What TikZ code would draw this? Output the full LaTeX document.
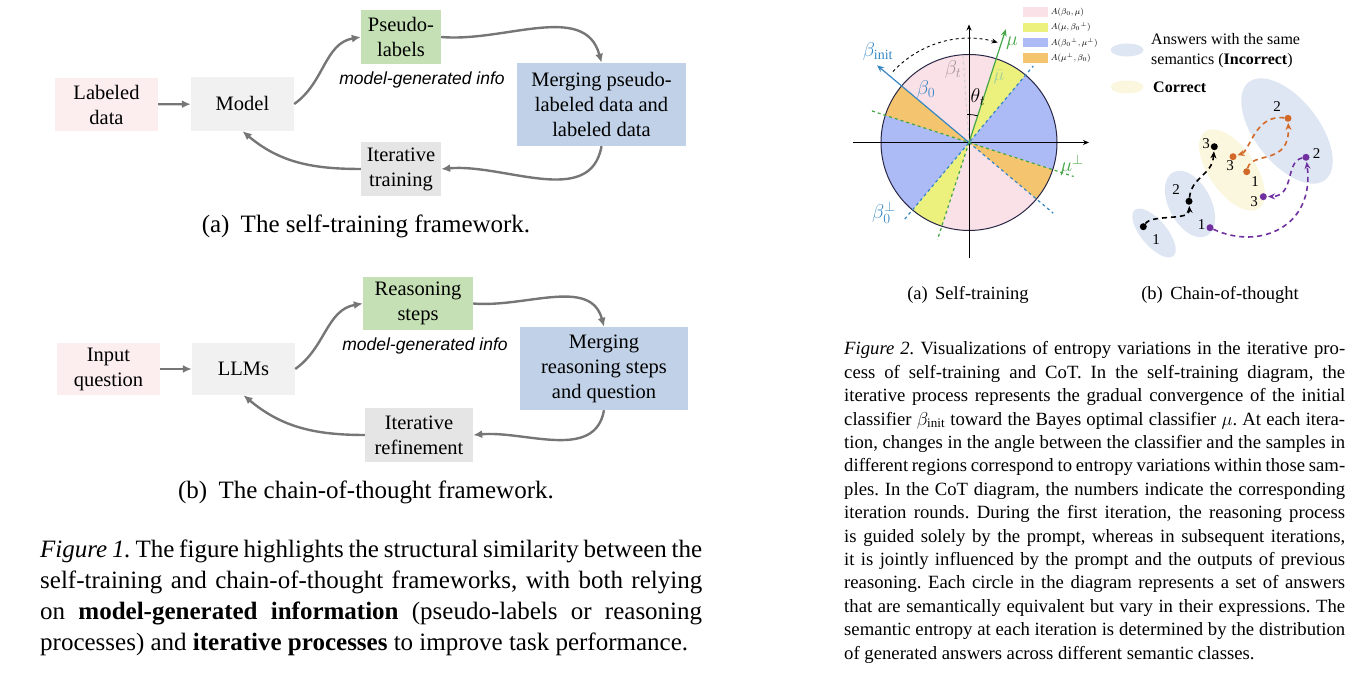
\documentclass[tikz,border=0pt]{standalone}
\usepackage{fix-cm}
\usepackage{amsmath}
\usepackage{amssymb}
\usepackage{fontspec}
\setmainfont{Liberation Serif}
\newfontfamily\infofont{Liberation Sans}
\usetikzlibrary{positioning, arrows.meta}
\frenchspacing
\definecolor{boxpink}{RGB}{252,238,238}
\definecolor{boxgray}{RGB}{241,241,241}
\definecolor{boxgreen}{RGB}{197,224,180}
\definecolor{boxblue}{RGB}{193,210,232}
\definecolor{itergray}{RGB}{229,229,229}
\definecolor{arrowgray}{RGB}{118,118,118}
\definecolor{secpink}{RGB}{250,224,231}
\definecolor{secyellow}{RGB}{236,240,125}
\definecolor{secblue}{RGB}{172,186,245}
\definecolor{secorange}{RGB}{245,196,110}
\definecolor{circnavy}{RGB}{40,40,70}
\definecolor{betablue}{RGB}{55,135,195}
\definecolor{mugreen}{RGB}{70,165,70}
\definecolor{semblue}{RGB}{222,230,243}
\definecolor{semyellow}{RGB}{251,246,222}
\definecolor{pathorange}{RGB}{210,105,40}
\definecolor{pathpurple}{RGB}{112,48,160}
\tikzset{
x=1pt, y=1pt, % one unit is one pixel of the page
box/.style={inner sep=0pt, align=center, font=\fontsize{20.5}{25}\selectfont}, % the boxes of figure 1
flow/.style={draw=arrowgray, line width=2.4pt, -{Latex[length=9pt,width=8pt]}}, % grey arrows between boxes
info/.style={font=\infofont\itshape\fontsize{17.5}{20}\selectfont},
subcap/.style={font=\fontsize{25}{30}\selectfont},
legbox/.style={minimum width=25pt, minimum height=9.5pt, inner sep=0pt},
legtext/.style={inner sep=0pt, font=\fontsize{8.5}{10}\selectfont},
betaline/.style={draw=betablue, line width=1.2pt},
muline/.style={draw=mugreen, line width=1.2pt},
axis/.style={line width=0.9pt, -{Stealth[length=6pt,width=5pt]}},
dot/.style={circle, inner sep=0pt, minimum size=7pt},
num/.style={inner sep=0pt, font=\fontsize{15}{18}\selectfont},
cotpath/.style={line width=1.6pt, dash pattern=on 5pt off 4pt, -{Stealth[length=7pt,width=6pt]}, shorten >=1pt},
}

\begin{document}
\begin{tikzpicture}
    \useasboundingbox (0,0) rectangle (1362,676);
    %% Figure 1 (a): the self-training loop
    \node[box, fill=boxpink, minimum width=103pt, minimum height=53pt] (labA) at (106.5,571.5) {Labeled\\data};
    \node[box, fill=boxgray, minimum width=103pt, minimum height=54pt] (modelA) at (242.5,572) {Model};
    \node[box, fill=boxgreen, minimum width=80pt, minimum height=54pt] (pseuA) at (401,639) {Pseudo-\\labels};
    \node[box, fill=boxblue, minimum width=169pt, minimum height=83pt] (mergA) at (601.5,571.5) {Merging pseudo-\\labeled data and\\labeled data};
    \node[box, fill=itergray, minimum width=80pt, minimum height=54pt] (iterA) at (401,507) {Iterative\\training};
    \node[info] (infoA) at (422,596) {model-generated info};
    \draw[flow] (labA) -- (modelA);
    \draw[flow] (modelA.east) to[out=35,in=190] (pseuA.west);
    \draw[flow] (pseuA.east) to[out=-5,in=105] (mergA.north);
    \draw[flow] (mergA.south) to[out=-100,in=5] (iterA.east);
    \draw[flow] (iterA.west) to[out=180,in=-40] (modelA.south);
    \node[subcap] (capA) at (366,450) {(a)\hspace{0.45em}The self-training framework.};
    %% Figure 1 (b): the chain-of-thought loop
    \node[box, fill=boxpink, minimum width=103pt, minimum height=52pt] (inB) at (108.5,307) {Input\\question};
    \node[box, fill=boxgray, minimum width=103pt, minimum height=52pt] (llmB) at (243.5,307) {LLMs};
    \node[box, fill=boxgreen, minimum width=110pt, minimum height=53pt] (reasB) at (418,372.5) {Reasoning\\steps};
    \node[box, fill=boxblue, minimum width=168pt, minimum height=83pt] (mergB) at (604,307.5) {Merging\\reasoning steps\\and question};
    \node[box, fill=itergray, minimum width=108pt, minimum height=54pt] (iterB) at (419,241) {Iterative\\refinement};
    \node[info] (infoB) at (425,330) {model-generated info};
    \draw[flow] (inB) -- (llmB);
    \draw[flow] (llmB.east) to[out=35,in=190] (reasB.west);
    \draw[flow] (reasB.east) to[out=-5,in=105] (mergB.north);
    \draw[flow] (mergB.south) to[out=-100,in=5] (iterB.east);
    \draw[flow] (iterB.west) to[out=180,in=-40] (llmB.south);
    \node[subcap] (capB) at (366,184) {(b)\hspace{0.45em}The chain-of-thought framework.};
    %% caption of figure 1
    \node[anchor=north west, inner sep=0pt, text width=662pt, align=justify, font=\fontsize{25}{31}\selectfont] (capFigA) at (40,136)
        {\textit{Figure 1.} The figure highlights the structural similarity between the\linebreak
        self-training and chain-of-thought frameworks, with both relying\linebreak
        on \textbf{model-generated information} (pseudo-labels or reasoning\linebreak
        processes) and \textbf{iterative processes} to improve task performance.};
    %% Figure 2 (a): classifier angles on the circle
    \begin{scope}[shift={(969,533.5)}]
        \foreach \a/\b/\c in {72/140/secpink, 252/320/secpink, 50/72/secyellow, 230/252/secyellow, -18/50/secblue, 162/230/secblue, 140/162/secorange, 320/342/secorange}
            \fill[\c] (0,0) -- (\a:88) arc[start angle=\a, end angle=\b, radius=88] -- cycle;
        \draw[line width=1pt, draw=circnavy] (0,0) circle (88);
        \draw[axis] (-116,0) -- (120,0);
        \draw[axis] (0,-116) -- (0,118);
        \draw[betaline, dashed] (230:100) -- (50:100);
        \draw[betaline, dashed] (0,0) -- (320:110);
        \draw[muline, dashed] (162:102) -- (-18:110);
        \draw[muline, dashed] (0,0) -- (252:102);
        \draw[gray!35, dashed, line width=1pt] (0,0) -- (94:88);
        \draw[betaline, -{Stealth[length=7pt,width=6pt]}] (0,0) -- (140:120);
        \draw[muline, -{Stealth[length=7pt,width=6pt]}] (0,0) -- (72:119);
        \draw[line width=0.8pt] (94:28) arc[start angle=94, end angle=72, radius=28];
        \draw[line width=0.9pt, dashed, -{Stealth[length=6pt,width=5pt]}] (137:104) arc[start angle=137, end angle=74, radius=104];
        \node[text=betablue, font=\fontsize{20}{24}\selectfont] (lbInit) at (-91,90.5) {$\beta_{\mathrm{init}}$};
        \node[text=betablue, font=\fontsize{20}{24}\selectfont] (lbZero) at (-43,52.5) {$\beta_0$};
        \node[text=gray!40!secpink!80!black, font=\fontsize{20}{24}\selectfont] (lbT) at (-16,72.5) {$\beta_t$};
        \node[text=mugreen, font=\fontsize{20}{24}\selectfont] (lbMu) at (43,99.5) {$\mu$};
        \node[text=mugreen!50, font=\fontsize{18}{22}\selectfont] (lbMuBar) at (30,65.5) {$\bar{\mu}$};
        \node[font=\fontsize{20}{24}\selectfont] (lbTheta) at (9,45.5) {$\theta_t$};
        \node[text=mugreen, font=\fontsize{20}{24}\selectfont] (lbMuP) at (103,-22.5) {$\mu^{\perp}$};
        \node[text=betablue, font=\fontsize{20}{24}\selectfont] (lbZeroP) at (-85,-70.5) {$\beta_0^{\perp}$};
    \end{scope}
    %% legend of the four regions
    \foreach \c/\t [count=\i] in {secpink/{$A(\beta_0,\mu)$}, secyellow/{$A(\mu,{\beta_0}^{\perp})$}, secblue/{$A({\beta_0}^{\perp},\mu^{\perp})$}, secorange/{$A(\mu^{\perp},\beta_0)$}}{
        \node[legbox, fill=\c] (leg\i) at (1035.5,679.5-15.4*\i) {};
        \node[legtext, anchor=west, right=2.5pt of leg\i] (legt\i) {\t};
    }
    %% Figure 2 (b): answers moving between semantic classes
    \fill[semblue] (1127,626) ellipse [x radius=16.5, y radius=6.5];
    \fill[semyellow] (1127,589) ellipse [x radius=16.5, y radius=6.5];
    \node[anchor=west, inner sep=0pt, align=left, font=\fontsize{16}{20}\selectfont] (legSem) at (1151,625) {Answers with the same\\semantics (\textbf{Incorrect})};
    \node[anchor=west, inner sep=0pt, font=\fontsize{16}{20}\selectfont] (legCor) at (1153,589) {\textbf{Correct}};
    \fill[semblue] (1154,443) ellipse [x radius=30, y radius=13, rotate=-50];
    \fill[semblue] (1190,472) ellipse [x radius=36, y radius=21, rotate=-62];
    \fill[semyellow] (1232,506) ellipse [x radius=47, y radius=23, rotate=-55];
    \fill[semblue] (1287,545) ellipse [x radius=62, y radius=32, rotate=-52];
    \node[dot, fill=black] (b1) at (1143.3,449.3) {};
    \node[dot, fill=black] (b2) at (1189,474.7) {};
    \node[dot, fill=black] (b3) at (1214.3,529.3) {};
    \node[dot, fill=pathorange] (o1) at (1246.7,504.3) {};
    \node[dot, fill=pathorange] (o2) at (1288,557.7) {};
    \node[dot, fill=pathorange] (o3) at (1233,519.3) {};
    \node[dot, fill=pathpurple] (p1) at (1210,448.3) {};
    \node[dot, fill=pathpurple] (p2) at (1306,518.7) {};
    \node[dot, fill=pathpurple] (p3) at (1263.3,479.3) {};
    \node[num] at (1156,436) {1};
    \node[num] at (1176,486) {2};
    \node[num] at (1206,532) {3};
    \node[num] at (1255,494) {1};
    \node[num] at (1277,569) {2};
    \node[num] at (1230,510) {3};
    \node[num] at (1201.7,451) {1};
    \node[num] at (1316.7,522) {2};
    \node[num] at (1254,474.3) {3};
    \draw[cotpath, black] (b1) .. controls (1152,462) and (1190,455) .. (b2);
    \draw[cotpath, black] (b2) .. controls (1192,500) and (1212,500) .. (b3);
    \draw[cotpath, pathorange] (o1) .. controls (1252,525) and (1290,510) .. (o2);
    \draw[cotpath, pathorange] (o2) .. controls (1255,562) and (1250,525) .. (o3);
    \draw[cotpath, pathpurple] (p1) .. controls (1260,425) and (1315,450) .. (p2);
    \draw[cotpath, pathpurple] (p2) .. controls (1285,515) and (1295,480) .. (p3);
    %% sub-captions and caption of figure 2
    \node[font=\fontsize{18.5}{22}\selectfont] (capC) at (968,381) {(a)\hspace{0.4em}Self-training};
    \node[font=\fontsize{18.5}{22}\selectfont] (capD) at (1220,381) {(b)\hspace{0.4em}Chain-of-thought};
    \node[anchor=north west, inner sep=0pt, text width=501pt, align=justify, font=\fontsize{18.7}{23.4}\selectfont] (capFigB) at (844,334.5)
        {\textit{Figure 2.} Visualizations of entropy variations in the iterative pro-\linebreak
        cess of self-training and CoT. In the self-training diagram, the\linebreak
        iterative process represents the gradual convergence of the initial\linebreak
        classifier $\beta_{\mathrm{init}}$ toward the Bayes optimal classifier $\mu$. At each itera-\linebreak
        tion, changes in the angle between the classifier and the samples in\linebreak
        different regions correspond to entropy variations within those sam-\linebreak
        ples. In the CoT diagram, the numbers indicate the corresponding\linebreak
        iteration rounds. During the first iteration, the reasoning process\linebreak
        is guided solely by the prompt, whereas in subsequent iterations,\linebreak
        it is jointly influenced by the prompt and the outputs of previous\linebreak
        reasoning. Each circle in the diagram represents a set of answers\linebreak
        that are semantically equivalent but vary in their expressions. The\linebreak
        semantic entropy at each iteration is determined by the distribution\linebreak
        of generated answers across different semantic classes.};
\end{tikzpicture}
\end{document}
